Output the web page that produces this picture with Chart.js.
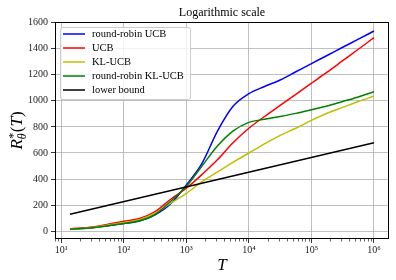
<!DOCTYPE html>
<html>
<head>
<meta charset="utf-8">
<script src="https://cdn.jsdelivr.net/npm/chart.js@4.4.1/dist/chart.umd.min.js"></script>
<style>
  html, body { margin: 0; padding: 0; background: #fff; }
  #wrap { width: 396px; height: 280px; }
</style>
</head>
<body>
<div id="wrap"><canvas id="grafico" width="396" height="280"></canvas></div>
<script>
// horizontes T (lidos no eixo logarítmico)
const horizontes = [13.8, 31.6, 100, 178, 316, 562, 1000, 1778, 3162, 5623, 10000,
  17783, 31623, 56234, 100000, 177828, 316228, 562341, 1000000];

const rrUcb   = [15, 27, 58, 78, 125, 210, 355, 520, 770, 960, 1055, 1110, 1160, 1223, 1286, 1348, 1411, 1473, 1536];
const ucb     = [17, 33, 77, 97, 150, 245, 330, 435, 550, 680, 790, 880, 965, 1050, 1135, 1220, 1308, 1396, 1485];
const klUcb   = [15, 28, 66, 88, 138, 215, 290, 380, 455, 530, 600, 670, 735, 790, 850, 905, 950, 995, 1037];
const rrKlUcb = [15, 27, 59, 80, 128, 230, 345, 500, 655, 770, 835, 858, 880, 904, 932, 960, 995, 1030, 1070];

const limiteT = [13.8, 1000000];
const limiteInferior = [130, 678];

const ticksY = [0, 200, 400, 600, 800, 1000, 1200, 1400, 1600];
const ticksX = [10, 100, 1000, 10000, 100000, 1000000];
const rotulosX = ["10\u00b9", "10\u00b2", "10\u00b3", "10\u2074", "10\u2075", "10\u2076"];

const FONTE = "'Liberation Serif', 'DejaVu Serif', serif";

function pontos(xs, ys) {
  return xs.map((x, i) => ({ x: x, y: ys[i] }));
}

function serie(label, xs, ys, cor, ordem) {
  return {
    label: label,
    data: pontos(xs, ys),
    borderColor: cor,
    backgroundColor: cor,
    borderWidth: 1.5,
    pointRadius: 0,
    cubicInterpolationMode: "monotone",
    order: ordem,
  };
}

const decoracao = {
  id: "decoracao",
  afterDraw(chart) {
    const { ctx, chartArea: a, scales } = chart;
    ctx.save();

    // ticks menores do eixo log
    ctx.strokeStyle = "#000";
    ctx.lineWidth = 0.6;
    const x = scales.x;
    for (let n = 0; n <= 6; n++) {
      for (let k = 2; k <= 9; k++) {
        const v = k * Math.pow(10, n);
        if (v < x.min || v > x.max) continue;
        const px = Math.round(x.getPixelForValue(v)) + 0.5;
        ctx.beginPath();
        ctx.moveTo(px, a.bottom);
        ctx.lineTo(px, a.bottom + 2.5);
        ctx.stroke();
      }
    }

    // moldura
    ctx.lineWidth = 1;
    ctx.strokeStyle = "#000";
    ctx.strokeRect(Math.round(a.left) + 0.5, Math.round(a.top) + 0.5,
      Math.round(a.right - a.left) - 1, Math.round(a.bottom - a.top) - 1);

    // título
    ctx.fillStyle = "#000";
    ctx.font = "12px " + FONTE;
    ctx.textAlign = "center";
    ctx.textBaseline = "alphabetic";
    ctx.fillText("Logarithmic scale", (a.left + a.right) / 2, 16);

    // rótulo x
    ctx.font = "italic 17px " + FONTE;
    ctx.fillText("T", (a.left + a.right) / 2, 270);

    // rótulo y: R*_θ(T)
    ctx.translate(22, (a.top + a.bottom) / 2);
    ctx.rotate(-Math.PI / 2);
    ctx.font = "italic 17px " + FONTE;
    const wR = ctx.measureText("R").width;
    const wT = ctx.measureText("T").width;
    ctx.font = "12px " + FONTE;
    const wStar = ctx.measureText("*").width;
    ctx.font = "italic 12px " + FONTE;
    const wTh = ctx.measureText("\u03b8").width;
    ctx.font = "17px " + FONTE;
    const wAbre = ctx.measureText("(").width;
    const wFecha = ctx.measureText(")").width;
    const total = wR + Math.max(wStar, wTh) + 1 + wAbre + wT + wFecha;
    let cx = -total / 2;
    ctx.textAlign = "left";
    ctx.font = "italic 17px " + FONTE;
    ctx.fillText("R", cx, 0);
    cx += wR;
    ctx.font = "12px " + FONTE;
    ctx.fillText("*", cx + 0.5, -5);
    ctx.font = "italic 12px " + FONTE;
    ctx.fillText("\u03b8", cx, 4);
    cx += Math.max(wStar, wTh) + 1;
    ctx.font = "17px " + FONTE;
    ctx.fillText("(", cx, 0);
    cx += wAbre;
    ctx.font = "italic 17px " + FONTE;
    ctx.fillText("T", cx, 0);
    cx += wT;
    ctx.font = "17px " + FONTE;
    ctx.fillText(")", cx, 0);
    ctx.restore();

    // legenda
    ctx.save();
    const lx = a.left + 5, ly = a.top + 5, lw = 130, lh = 72;
    ctx.beginPath();
    ctx.roundRect(lx + 0.5, ly + 0.5, lw, lh, 2.5);
    ctx.fillStyle = "rgba(255,255,255,0.8)";
    ctx.fill();
    ctx.strokeStyle = "#cccccc";
    ctx.lineWidth = 1;
    ctx.stroke();
    ctx.font = "10.5px " + FONTE;
    ctx.textAlign = "left";
    ctx.textBaseline = "middle";
    chart.data.datasets.forEach((ds, i) => {
      const yy = ly + 7 + i * 14;
      ctx.strokeStyle = ds.borderColor;
      ctx.lineWidth = 1.5;
      ctx.beginPath();
      ctx.moveTo(lx + 3, yy);
      ctx.lineTo(lx + 25, yy);
      ctx.stroke();
      ctx.fillStyle = "#000";
      ctx.fillText(ds.label, lx + 32, yy + 0.5);
    });
    ctx.restore();
  },
};

new Chart(document.getElementById("grafico"), {
  type: "line",
  data: {
    datasets: [
      serie("round-robin UCB", horizontes, rrUcb, "#0000ff", 5),
      serie("UCB", horizontes, ucb, "#ff0000", 4),
      serie("KL-UCB", horizontes, klUcb, "#bfbf00", 3),
      serie("round-robin KL-UCB", horizontes, rrKlUcb, "#008000", 2),
      serie("lower bound", limiteT, limiteInferior, "#000000", 1),
    ],
  },
  options: {
    responsive: false,
    animation: false,
    devicePixelRatio: 1,
    layout: { padding: { left: 0, right: 7, top: 22, bottom: 0 } },
    plugins: {
      legend: { display: false },
      title: { display: false },
      tooltip: { enabled: false },
    },
    scales: {
      x: {
        type: "logarithmic",
        min: Math.pow(10, 0.9),
        max: Math.pow(10, 6.24),
        afterBuildTicks: (scale) => {
          scale.ticks = ticksX.map((v) => ({ value: v }));
        },
        afterFit: (scale) => { scale.height = 41; },
        grid: { color: "#b0b0b0", lineWidth: 0.8, tickColor: "#000", tickLength: 4 },
        border: { display: false },
        ticks: {
          autoSkip: false,
          maxRotation: 0,
          padding: 1,
          color: "#222",
          font: { family: FONTE, size: 10 },
          callback: (v) => {
            const i = ticksX.indexOf(v);
            return i >= 0 ? rotulosX[i] : "";
          },
        },
      },
      y: {
        type: "linear",
        min: -60,
        max: 1605,
        afterBuildTicks: (scale) => {
          scale.ticks = ticksY.map((v) => ({ value: v }));
        },
        afterFit: (scale) => { scale.width = 55; },
        grid: { color: "#b0b0b0", lineWidth: 0.8, tickColor: "#000", tickLength: 4 },
        border: { display: false },
        ticks: {
          padding: 3,
          color: "#222",
          font: { family: FONTE, size: 10 },
          callback: (v) => String(v),
        },
      },
    },
  },
  plugins: [decoracao],
});
</script>
</body>
</html>
